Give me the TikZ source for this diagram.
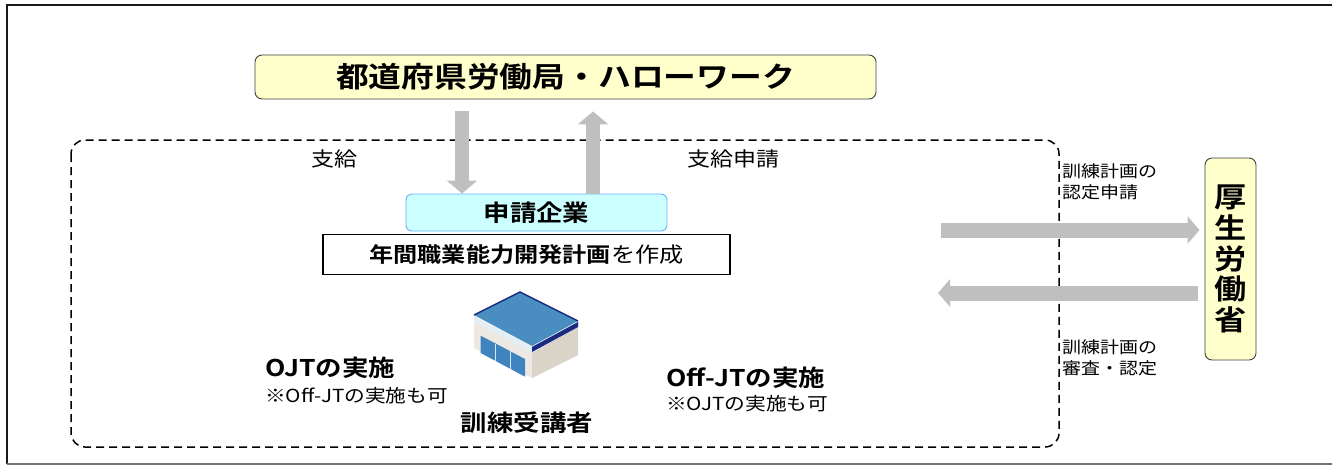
\documentclass[tikz,border=0pt]{standalone}
\usepackage{fontspec}
\setmainfont{Noto Sans CJK JP}[BoldFont={Noto Sans CJK JP Bold}, FakeStretch=1.15]
\usetikzlibrary{arrows.meta}
\definecolor{boxyellow}{HTML}{FFFFCC}
\definecolor{boxcyan}{HTML}{CCFFFF}
\definecolor{cyanedge}{HTML}{66B2FF}
\definecolor{arrowgrey}{HTML}{BFBFBF}
\definecolor{roofblue}{HTML}{4A8DC0}
\definecolor{roofnavy}{HTML}{1A2A80}
\definecolor{wallfront}{HTML}{EDE9E2}
\definecolor{wallside}{HTML}{D9D3C8}
\definecolor{winblue}{HTML}{3F83BF}
\tikzset{
  ybox/.style={draw=black!75, line width=0.9pt, fill=boxyellow, rounded corners=7pt, inner sep=0pt, align=center},
  cbox/.style={draw=cyanedge, line width=0.9pt, fill=boxcyan, rounded corners=6pt, inner sep=0pt},
  wbox/.style={draw=black, line width=1.6pt, fill=white, inner sep=0pt},
  bigarrowv/.style={draw=arrowgrey, line width=14pt, -{Triangle[length=13pt, width=30pt]}},
  bigarrowh/.style={draw=arrowgrey, line width=15pt, -{Triangle[length=12pt, width=27pt]}},
  lbl/.style={inner sep=0pt, font=\fontsize{20}{22}\selectfont},
  smalllbl/.style={inner sep=0pt, anchor=west, align=left, font=\fontsize{16.5}{21}\selectfont},
  boldlbl/.style={inner sep=0pt, font=\bfseries\fontsize{23}{25}\selectfont},
  notelbl/.style={inner sep=0pt, anchor=west, font=\fontsize{18}{20}\selectfont},
}
\begin{document}
\begin{tikzpicture}[x=1pt,y=-1pt]
\useasboundingbox (0,0) rectangle (1332,466);
% outer frame
\draw[line width=2pt, black!90] (7,464) -- (7,5) -- (1332,5);
\draw[line width=1.5pt, black!55] (7,464) -- (1332,464);
% dashed group
\draw[line width=1.5pt, dash pattern=on 8pt off 5pt, rounded corners=14pt] (71,140) rectangle (1059,447);
% top box
\node[ybox, minimum width=621pt, minimum height=44pt, font=\bfseries\fontsize{28.5}{30}\selectfont] (hw) at (565.5,77) {都道府県労働局・ハローワーク};
% company
\node[cbox, minimum width=261pt, minimum height=37pt, font=\bfseries\fontsize{23}{25}\selectfont] (co) at (536.5,212.5) {申請企業};
\node[wbox, minimum width=407pt, minimum height=40pt, font=\fontsize{21}{23}\selectfont] (plan) at (526.5,254.5) {\textbf{年間職業能力開発計画}を作成};
% MHLW
\node[ybox, minimum width=51pt, minimum height=202pt, font=\bfseries\fontsize{28}{30.7}\selectfont] (mh) at (1230.5,259) {厚\\生\\労\\働\\省};
% vertical arrows
\draw[bigarrowv] ([shift={(-103.5,12)}]hw.south) -- ([xshift=-74.5pt]co.north);
\draw[bigarrowv] ([xshift=56.5pt]co.north) -- ([shift={(27.5,12)}]hw.south);
% horizontal arrows
\coordinate (ra) at (941,230);
\coordinate (la) at (938,293);
\draw[bigarrowh] (ra) -- ([shift={(-5,-29)}]mh.west);
\draw[bigarrowh] ([shift={(-7,34)}]mh.west) -- (la);
% labels
\node[lbl] (l1) at (334,159) {支給};
\node[lbl] (l2) at (733,159) {支給申請};
\node[smalllbl] (l3) at (1062,182) {訓練計画の\\認定申請};
\node[smalllbl] (l4) at (1062,358) {訓練計画の\\審査・認定};
% building icon
\fill[wallfront] (474,316) -- (532,347) -- (532,378) -- (474,348) -- cycle;
\fill[wallside] (532,347) -- (578,322) -- (578,355) -- (532,378) -- cycle;
\fill[white!85!roofblue] (474,316) -- (532,347) -- (578,322) -- (578,327) -- (532,353) -- (474,322) -- cycle;
\fill[roofnavy] (532,347) -- (578,322) -- (578,327) -- (532,352) -- cycle;
\fill[roofblue] (520,292) -- (578,321) -- (532,346) -- (474,315) -- cycle;
\draw[roofnavy, line width=1.5pt] (474,315) -- (520,292) -- (578,321);
\fill[winblue] (480.7,335.7) -- (525,359) -- (525,376.7) -- (480.7,353) -- cycle;
\draw[white!80!winblue, line width=0.8pt] (495.5,343.5) -- (495.5,361) (510.2,351.2) -- (510.2,368.8);
\node[boldlbl, anchor=west] (ojt) at (265,367.5) {OJTの実施};
\node[notelbl] (ojtn) at (265,396) {※Off-JTの実施も可};
\node[boldlbl] (tr) at (527,423) {訓練受講者};
\node[boldlbl, anchor=west] (off) at (666,378) {Off-JTの実施};
\node[notelbl] (offn) at (666,404) {※OJTの実施も可};
\end{tikzpicture}
\end{document}
